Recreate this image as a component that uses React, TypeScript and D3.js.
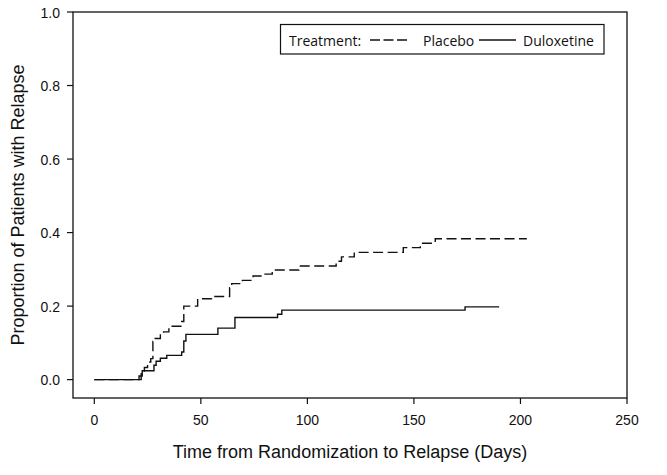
import React from 'react'
import * as d3 from "d3";

// Kaplan-Meier style cumulative relapse
const placeboDays = [0, 22, 23.5, 25, 26.5, 27.5, 28.5, 31, 32.5, 35, 41, 42, 48.5, 55, 63.5, 64.5, 69.5, 74.5, 79, 83.5, 96, 113.5, 116, 122, 145, 153, 160, 203];
const placeboRelapse = [0, 0.020, 0.033, 0.048, 0.057, 0.104, 0.112, 0.124, 0.130, 0.145, 0.158, 0.200, 0.220, 0.226, 0.250, 0.261, 0.270, 0.282, 0.287, 0.298, 0.309, 0.322, 0.334, 0.346, 0.359, 0.371, 0.383, 0.383];

const duloxetineDays = [0, 21, 22.5, 28, 29, 31, 34, 41, 42, 43, 58, 66, 86, 88, 174, 190];
const duloxetineRelapse = [0, 0.010, 0.024, 0.039, 0.050, 0.058, 0.066, 0.075, 0.105, 0.123, 0.140, 0.169, 0.178, 0.189, 0.198, 0.198];

const xTicks = [0, 50, 100, 150, 200, 250];
const yTicks = [0, 0.2, 0.4, 0.6, 0.8, 1.0];

const legendTitle = "Treatment:";
const legendNames = ["Placebo", "Duloxetine"];

function drawChart(svgRef: React.RefObject<SVGSVGElement>) {
  const width = 667
  const height = 475
  const margin = { top: 12, right: 40, bottom: 77, left: 73 }

  const x = d3.scaleLinear()
    .domain([-10, 250])
    .range([margin.left, width - margin.right])

  const y = d3.scaleLinear()
    .domain([-0.05, 1.0])
    .range([height - margin.bottom, margin.top])

  const svg = d3.select(svgRef.current)
    .attr("width", width)
    .attr("height", height)
    .attr("viewBox", [0, 0, width, height].join(" "))

  svg.selectAll("*").remove()

  const axisFont = "'Liberation Sans', Arial, sans-serif"

  // frame
  svg.append("rect")
    .attr("x", x(-10))
    .attr("y", y(1.0))
    .attr("width", x(250) - x(-10))
    .attr("height", y(-0.05) - y(1.0))
    .attr("fill", "none")
    .attr("stroke", "#111")
    .attr("stroke-width", 1.3)

  // y axis ticks
  const yAxis = svg.append("g")
    .attr("font-family", axisFont)
    .attr("font-size", 14)
    .attr("fill", "#111")

  yAxis.selectAll("line")
    .data(yTicks)
    .join("line")
      .attr("x1", margin.left - 6)
      .attr("x2", margin.left)
      .attr("y1", d => y(d))
      .attr("y2", d => y(d))
      .attr("stroke", "#111")
      .attr("stroke-width", 1.2)

  yAxis.selectAll("text")
    .data(yTicks)
    .join("text")
      .attr("x", margin.left - 13)
      .attr("y", d => y(d) + 5.5)
      .attr("text-anchor", "end")
      .text(d => d3.format(".1f")(d))

  // x axis ticks
  const xAxis = svg.append("g")
    .attr("font-family", axisFont)
    .attr("font-size", 14)
    .attr("fill", "#111")

  xAxis.selectAll("line")
    .data(xTicks)
    .join("line")
      .attr("x1", d => x(d))
      .attr("x2", d => x(d))
      .attr("y1", height - margin.bottom)
      .attr("y2", height - margin.bottom + 6)
      .attr("stroke", "#111")
      .attr("stroke-width", 1.2)

  xAxis.selectAll("text")
    .data(xTicks)
    .join("text")
      .attr("x", d => x(d))
      .attr("y", 425)
      .attr("text-anchor", "middle")
      .text(d => d)

  // axis titles
  svg.append("text")
    .attr("x", (x(-10) + x(250)) / 2)
    .attr("y", 458)
    .attr("text-anchor", "middle")
    .attr("font-family", axisFont)
    .attr("font-size", 18)
    .attr("fill", "#111")
    .text("Time from Randomization to Relapse (Days)")

  svg.append("text")
    .attr("transform", `translate(24,${(y(1.0) + y(-0.05)) / 2}) rotate(-90)`)
    .attr("text-anchor", "middle")
    .attr("font-family", axisFont)
    .attr("font-size", 18)
    .attr("fill", "#111")
    .text("Proportion of Patients with Relapse")

  // curves
  const line = d3.line<[number, number]>()
    .x(d => x(d[0]))
    .y(d => y(d[1]))
    .curve(d3.curveStepAfter)

  const placebo = placeboDays.map((d, i) => [d, placeboRelapse[i]] as [number, number])
  const duloxetine = duloxetineDays.map((d, i) => [d, duloxetineRelapse[i]] as [number, number])

  svg.append("path")
    .attr("d", line(placebo))
    .attr("fill", "none")
    .attr("stroke", "#111")
    .attr("stroke-width", 1.4)
    .attr("stroke-dasharray", "10,4.5")

  svg.append("path")
    .attr("d", line(duloxetine))
    .attr("fill", "none")
    .attr("stroke", "#111")
    .attr("stroke-width", 1.4)

  // legend
  const legendFont = "'Open Sans', 'Noto Sans', sans-serif"
  const legend = svg.append("g")
    .attr("font-family", legendFont)
    .attr("font-size", 14)
    .attr("fill", "#111")

  legend.append("rect")
    .attr("x", 280.5)
    .attr("y", 24.5)
    .attr("width", 323.5)
    .attr("height", 29.5)
    .attr("fill", "#fff")
    .attr("stroke", "#111")
    .attr("stroke-width", 1.2)

  legend.append("text")
    .attr("x", 289)
    .attr("y", 45.5)
    .text(legendTitle)

  legend.append("line")
    .attr("x1", 370).attr("x2", 407)
    .attr("y1", 40).attr("y2", 40)
    .attr("stroke", "#111")
    .attr("stroke-width", 1.4)
    .attr("stroke-dasharray", "10,3.5")

  legend.append("text")
    .attr("x", 423)
    .attr("y", 45.5)
    .text(legendNames[0])

  legend.append("line")
    .attr("x1", 479).attr("x2", 516)
    .attr("y1", 40).attr("y2", 40)
    .attr("stroke", "#111")
    .attr("stroke-width", 1.4)

  legend.append("text")
    .attr("x", 523)
    .attr("y", 45.5)
    .text(legendNames[1])

  return svg.node();
}

const App: React.FunctionComponent = () => {
  const svg = React.useRef<SVGSVGElement>(null);

  React.useEffect(() => {
    drawChart(svg);
  }, [svg]);

  return (
    <div id="chart" style={{ position: "absolute", left: 0, top: 0 }}>
      <svg ref={svg} style={{ display: "block", background: "#fff" }} />
    </div>
  );
};

export default App
